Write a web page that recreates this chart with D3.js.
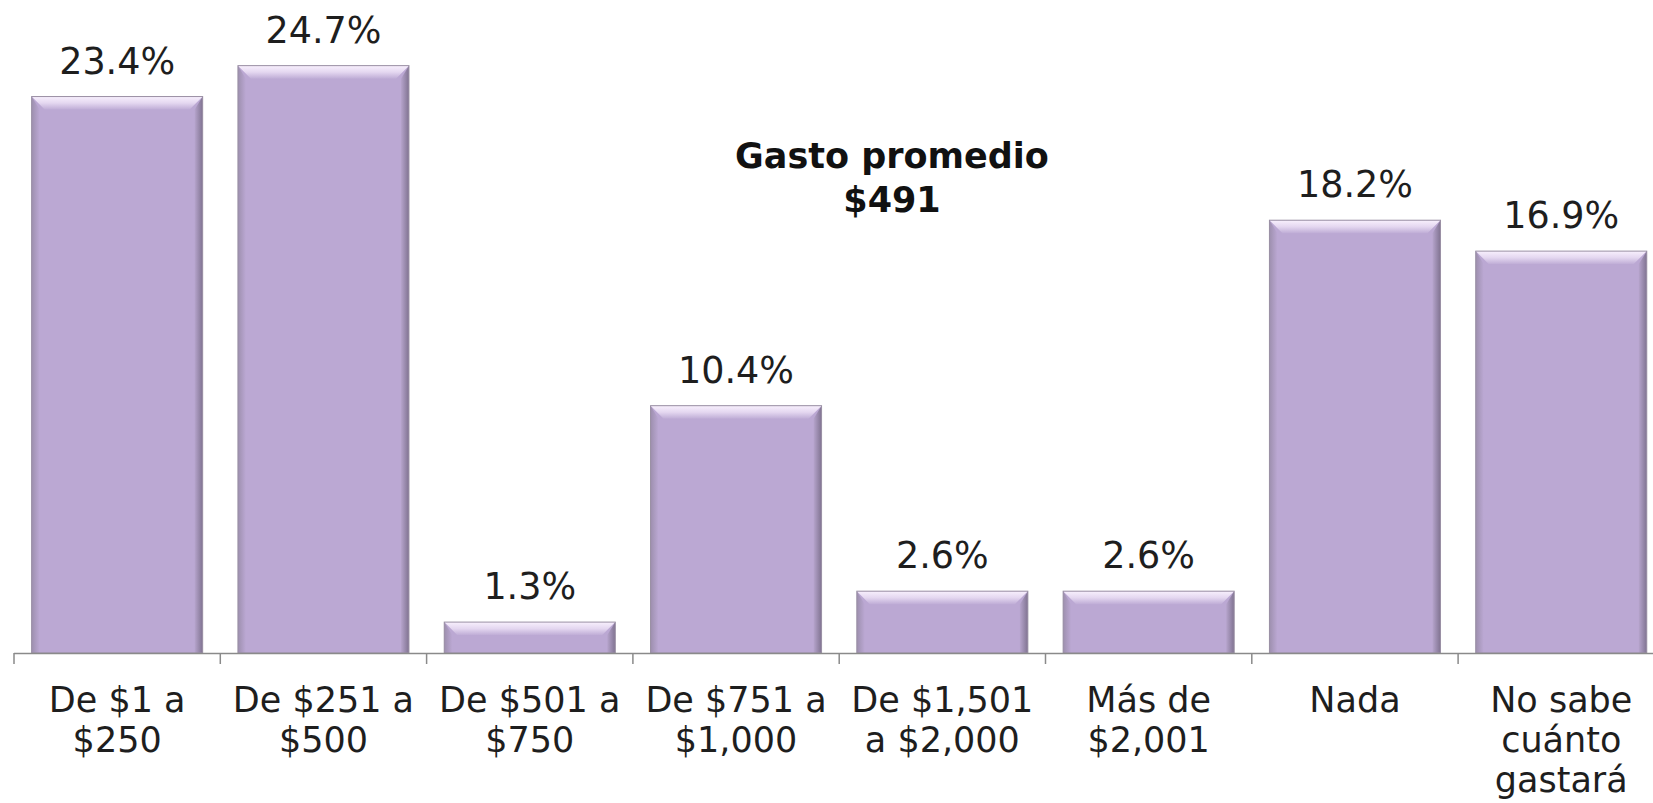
<!DOCTYPE html>
<html>
<head>
<meta charset="utf-8">
<script src="https://cdn.jsdelivr.net/npm/d3@7"></script>
<style>
  html, body { margin: 0; padding: 0; background: #ffffff; }
  svg { display: block; }
</style>
</head>
<body>
<div id="chart"></div>
<script>
// ---- Data ----
const categories = [
  ["De $1 a", "$250"],
  ["De $251 a", "$500"],
  ["De $501 a", "$750"],
  ["De $751 a", "$1,000"],
  ["De $1,501", "a $2,000"],
  ["Más de", "$2,001"],
  ["Nada"],
  ["No sabe", "cuánto", "gastará"]
];
const values = [23.4, 24.7, 1.3, 10.4, 2.6, 2.6, 18.2, 16.9];
const valueLabels = ["23.4%", "24.7%", "1.3%", "10.4%", "2.6%", "2.6%", "18.2%", "16.9%"];
const annotationLines = ["Gasto promedio", "$491"];

// ---- Layout ----
const W = 1653, H = 803;
const baseY = 653;
const axisX0 = 14, step = 206.3;
const font = "Verdana, 'DejaVu Sans', sans-serif";

const svg = d3.select("#chart").append("svg")
  .attr("width", W).attr("height", H);

const keys = categories.map((c, i) => "c" + i);
const x = d3.scaleBand()
  .domain(keys)
  .range([axisX0, axisX0 + step * keys.length])
  .paddingInner(0.171)
  .paddingOuter(0.0855);

const y = d3.scaleLinear().domain([0, 27.46]).range([baseY, 0]);

// ---- Gradients ----
const defs = svg.append("defs");
const gTop = defs.append("linearGradient").attr("id", "gTop")
  .attr("x1", 0).attr("y1", 0).attr("x2", 0).attr("y2", 1);
gTop.append("stop").attr("offset", 0).attr("stop-color", "#f8f0fd");
gTop.append("stop").attr("offset", 0.5).attr("stop-color", "#e4d7f0");
gTop.append("stop").attr("offset", 1).attr("stop-color", "#bfadd6");

const gRight = defs.append("linearGradient").attr("id", "gRight")
  .attr("x1", 0).attr("y1", 0).attr("x2", 1).attr("y2", 0);
gRight.append("stop").attr("offset", 0).attr("stop-color", "#b6a4cc");
gRight.append("stop").attr("offset", 1).attr("stop-color", "#807391");

const gLeft = defs.append("linearGradient").attr("id", "gLeft")
  .attr("x1", 0).attr("y1", 0).attr("x2", 1).attr("y2", 0);
gLeft.append("stop").attr("offset", 0).attr("stop-color", "#9d8fae");
gLeft.append("stop").attr("offset", 1).attr("stop-color", "#bba8d3");

// ---- Bars ----
const bars = svg.append("g").selectAll("g.bar")
  .data(values.map((v, i) => ({ v, i, k: keys[i] })))
  .join("g").attr("class", "bar");

bars.each(function(d) {
  const g = d3.select(this);
  const x0 = x(d.k), x1 = x(d.k) + x.bandwidth();
  const y0 = y(d.v), y1 = y(0);
  const b = Math.min(13, (y1 - y0) * 0.42);
  const s = 8;
  g.append("rect")
    .attr("x", x0).attr("y", y0)
    .attr("width", x1 - x0).attr("height", y1 - y0)
    .attr("fill", "#bba8d3");
  g.append("polygon")
    .attr("points", [[x0, y0], [x0 + s, y0 + b], [x0 + s, y1], [x0, y1]].join(" "))
    .attr("fill", "url(#gLeft)");
  g.append("polygon")
    .attr("points", [[x1, y0], [x1, y1], [x1 - s, y1], [x1 - s, y0 + b]].join(" "))
    .attr("fill", "url(#gRight)");
  g.append("polygon")
    .attr("points", [[x0, y0], [x1, y0], [x1 - b, y0 + b], [x0 + b, y0 + b]].join(" "))
    .attr("fill", "url(#gTop)");
  g.append("rect")
    .attr("x", x0).attr("y", y0)
    .attr("width", x1 - x0).attr("height", y1 - y0)
    .attr("fill", "none").attr("stroke", "#9a90a4").attr("stroke-width", 1);
});

// ---- Value labels ----
svg.append("g").selectAll("text")
  .data(values.map((v, i) => ({ v, i, k: keys[i] })))
  .join("text")
  .attr("x", d => x(d.k) + x.bandwidth() / 2)
  .attr("y", d => y(d.v) - 23)
  .attr("text-anchor", "middle")
  .attr("font-family", font)
  .attr("font-size", 36.5)
  .attr("fill", "#1e1e1e")
  .text(d => valueLabels[d.i]);

// ---- Axis ----
const axis = svg.append("g");
const r = x.range();
axis.append("line")
  .attr("x1", r[0]).attr("x2", r[1])
  .attr("y1", baseY + 0.5).attr("y2", baseY + 0.5)
  .attr("stroke", "#8a8a8a").attr("stroke-width", 1.5);
const tickXs = keys.map(k => x(k) - x.step() * x.paddingInner() / 2);
tickXs.push(r[1]);
axis.selectAll("line.tick").data(tickXs).join("line")
  .attr("class", "tick")
  .attr("x1", d => d).attr("x2", d => d)
  .attr("y1", baseY).attr("y2", baseY + 11)
  .attr("stroke", "#8a8a8a").attr("stroke-width", 1.5);

// ---- Category labels ----
const cat = svg.append("g").selectAll("text")
  .data(categories.map((c, i) => ({ c, k: keys[i] })))
  .join("text")
  .attr("text-anchor", "middle")
  .attr("font-family", font)
  .attr("font-size", 35)
  .attr("fill", "#1e1e1e");
cat.each(function(d) {
  const t = d3.select(this);
  const cx = x(d.k) + x.bandwidth() / 2;
  d.c.forEach((line, j) => {
    t.append("tspan").attr("x", cx).attr("y", 712 + j * 40).text(line);
  });
});

// ---- Annotation ----
const ann = svg.append("text")
  .attr("text-anchor", "middle")
  .attr("font-family", font)
  .attr("font-weight", "bold")
  .attr("font-size", 35)
  .attr("fill", "#111");
annotationLines.forEach((line, j) => {
  ann.append("tspan").attr("x", 892).attr("y", 168 + j * 44).text(line);
});
</script>
</body>
</html>
